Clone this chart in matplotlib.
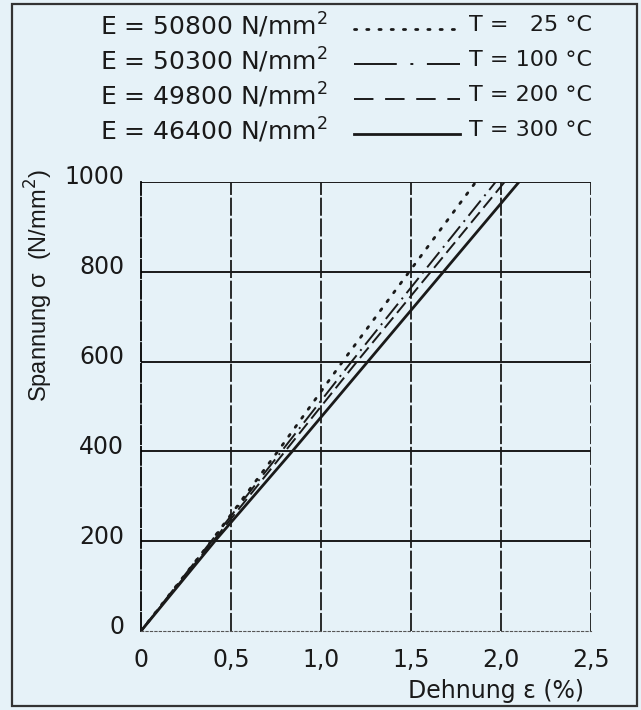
import matplotlib
matplotlib.use('Agg')
import matplotlib.pyplot as plt
from matplotlib.lines import Line2D
from matplotlib.patches import Rectangle
from matplotlib.transforms import ScaledTranslation

# stress levels (N/mm^2) and the strain (%) at those levels
stress = [0, 200, 400, 600, 800, 1000]
strain_25 = [0, 0.39, 0.76, 1.12, 1.49, 1.86]
strain_100 = [0, 0.39, 0.78, 1.17, 1.57, 1.97]
strain_200 = [0, 0.40, 0.80, 1.20, 1.61, 2.02]
strain_300 = [0, 0.41, 0.84, 1.26, 1.68, 2.10]

moduli = ['50800', '50300', '49800', '46400']
temps = ['  25', '100', '200', '300']

x_ticks = [0, 0.5, 1.0, 1.5, 2.0, 2.5]
x_tick_labels = ['0', '0,5', '1,0', '1,5', '2,0', '2,5']
y_ticks = [0, 200, 400, 600, 800, 1000]

bg = '#e6f2f8'
ink = '#1a1a1a'
styles = [
    dict(linestyle=(0, (0.8, 3.2)), linewidth=2.0, dash_capstyle='round'),
    dict(linestyle=(0, (10, 3, 1, 3)), linewidth=1.4),
    dict(linestyle=(0, (7, 3)), linewidth=1.4),
    dict(linestyle='-', linewidth=2.0),
]
# the key samples are drawn with longer dashes
key_styles = [
    dict(linestyle=(0, (0.8, 3.6)), linewidth=2.0, dash_capstyle='round'),
    dict(linestyle=(0, (22, 7, 1.5, 7)), linewidth=1.4),
    dict(linestyle=(0, (10, 6)), linewidth=1.4),
    dict(linestyle='-', linewidth=2.0),
]


def main():
    plt.rcParams['font.family'] = ['DejaVu Sans']
    fig = plt.figure(figsize=(6.41, 7.10), dpi=100)
    fig.patch.set_facecolor(bg)

    # outer frame
    fig.patches.append(Rectangle((12 / 641, 4 / 710), 625 / 641, 702 / 710,
                                 transform=fig.transFigure, fill=False,
                                 edgecolor='#333333', linewidth=1.6))

    ax = fig.add_axes([141 / 641, 79 / 710, 450 / 641, 449 / 710])
    ax.set_facecolor(bg)
    ax.set_xlim(0, 2.5)
    ax.set_ylim(0, 1000)

    for x in x_ticks[1:]:
        ax.axvline(x, color=ink, linewidth=1.3, linestyle=(0, (10, 1.5)), zorder=1)
    for y in y_ticks[1:]:
        ax.axhline(y, color=ink, linewidth=1.4, zorder=1)

    for side in ['top', 'right']:
        ax.spines[side].set_visible(False)
    ax.spines['left'].set_linestyle((0, (10, 1.5)))
    ax.spines['left'].set_linewidth(1.3)
    ax.spines['bottom'].set_linestyle((0, (2, 2)))
    ax.spines['bottom'].set_linewidth(0.8)
    ax.spines['bottom'].set_color('#555555')

    for strain, st in zip([strain_25, strain_100, strain_200, strain_300], styles):
        ax.plot(strain, stress, color=ink, zorder=3, **st)

    ax.set_xticks(x_ticks)
    ax.set_xticklabels(x_tick_labels)
    ax.set_yticks(y_ticks)
    ax.tick_params(length=0, labelsize=17, colors=ink)
    ax.tick_params(axis='x', pad=12)
    ax.tick_params(axis='y', pad=12)
    for lab in ax.get_yticklabels():
        lab.set_transform(lab.get_transform() + ScaledTranslation(0, 0.07, fig.dpi_scale_trans))

    ax.set_ylabel('Spannung σ  (N/mm$^2$)', fontsize=17, color=ink,
                  family='Liberation Sans')
    ax.yaxis.set_label_coords(-0.19, 0.77)
    fig.text(584 / 641, 1 - 691 / 710, 'Dehnung ε (%)', fontsize=17, color=ink,
             ha='right', va='center')

    # key block at the top
    rows = [25, 60, 95, 130]
    for row, mod, temp, st in zip(rows, moduli, temps, key_styles):
        y = 1 - row / 710
        fig.text(100 / 641, y, 'E = %s N/mm$^2$' % mod, fontsize=18, color=ink,
                 ha='left', va='center')
        fig.lines.append(Line2D([354 / 641, 460 / 641], [y - 0.005, y - 0.005],
                                transform=fig.transFigure, color=ink, **st))
        fig.text(592 / 641, y, 'T = %s °C' % temp, fontsize=16, color=ink,
                 ha='right', va='center')

    fig.savefig('out.png', dpi=100, facecolor=bg)


if __name__ == '__main__':
    main()
